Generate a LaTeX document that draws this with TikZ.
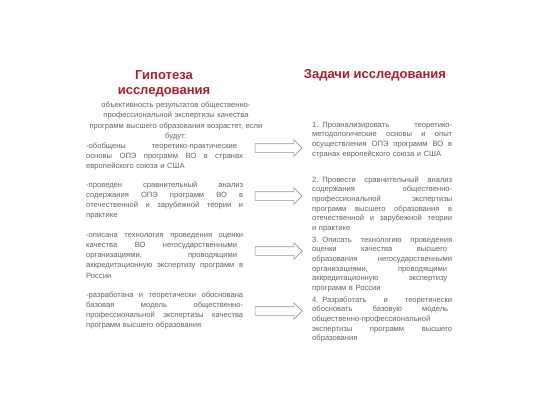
\documentclass[tikz,border=0pt]{standalone}
\usepackage{fontspec}
\setmainfont{Liberation Sans}
\usetikzlibrary{shapes.arrows}
\definecolor{ttl}{RGB}{175,30,40}
\definecolor{txt}{RGB}{100,100,100}
\definecolor{arr}{RGB}{150,150,150}
\newcommand\J[1]{\leavevmode\hbox to \hsize{\spaceskip=0.25em plus 3em minus 0.05em\relax #1}}
\begin{document}
\begin{tikzpicture}[x=1pt,y=-1pt,
  title/.style={text=ttl,font=\fontsize{13}{15}\selectfont\bfseries,align=center,inner sep=0pt},
  intro/.style={text=txt,font=\fontsize{7.6}{10.5}\selectfont,align=center,inner sep=0pt,anchor=base,text width=190pt},
  lbody/.style={text=txt,font=\fontsize{7.6}{10.3}\selectfont,align=left,inner sep=0pt,anchor=base west,text width=157pt},
  rbody/.style={text=txt,font=\fontsize{7.6}{9.7}\selectfont,align=left,inner sep=0pt,anchor=base west,text width=140pt},
  blockarrow/.style={single arrow,draw=arr,line width=0.6pt,fill=white,inner xsep=0pt,inner ysep=4pt,minimum height=47pt,single arrow head extend=4pt,single arrow head indent=0pt}]
\fill[white] (0,0) rectangle (540,405);
\path[use as bounding box] (0,0) rectangle (540,405);

\node[title] (t1) at (164,84) {Гипотеза\\исследования};
\node[title] (t2) at (375,75) {Задачи исследования};

\node[intro] (intro) at (176,107) {объективность результатов общественно-\\профессиональной экспертизы качества\\программ высшего образования возрастет, если\\будут:};

\node[lbody] (l1) at (86,148) {\J{-обобщены теоретико-практические\kern6pt}\\\J{основы ОПЭ программ ВО в странах}\\европейского союза и США};
\node[lbody] (l2) at (86,187) {\J{-проведен сравнительный анализ}\\\J{содержания ОПЭ программ ВО в}\\\J{отечественной и зарубежной теории и}\\практике};
\node[lbody] (l3) at (86,237) {\J{-описана технология проведения оценки}\\\J{качества ВО негосударственными\kern6pt}\\\J{организациями, проводящими\kern6pt}\\\J{аккредитационную экспертизу программ в}\\России};
\node[lbody] (l4) at (86,297) {\J{-разработана и теоретически обоснована}\\\J{базовая модель общественно-}\\\J{профессиональной экспертизы качества}\\программ высшего образования};

\node[rbody] (r1) at (312,127) {\J{1. Проанализировать теоретико-}\\\J{методологические основы и опыт}\\\J{осуществления ОПЭ программ ВО в}\\странах европейского союза и США};
\node[rbody] (r2) at (312,182) {\J{2. Провести сравнительный анализ}\\\J{содержания общественно-}\\\J{профессиональной экспертизы}\\\J{программ высшего образования в}\\\J{отечественной и зарубежной теории}\\и практике};
\node[rbody] (r3) at (312,242) {\J{3. Описать технологию проведения}\\\J{оценки качества высшего\kern5pt}\\\J{образования негосударственными}\\\J{организациями, проводящими\kern5pt}\\\J{аккредитационную экспертизу\kern5pt}\\программ в России};
\node[rbody] (r4) at (312,302) {\J{4. Разработать и теоретически}\\\J{обосновать базовую модель\kern4pt}\\общественно-профессиональной\\\J{экспертизы программ высшего}\\образования};

\node[blockarrow] (a1) at (276.5,148) {};
\node[blockarrow] (a2) at (276.5,196) {};
\node[blockarrow] (a3) at (276.5,251) {};
\node[blockarrow] (a4) at (276.5,311) {};
\end{tikzpicture}
\end{document}
